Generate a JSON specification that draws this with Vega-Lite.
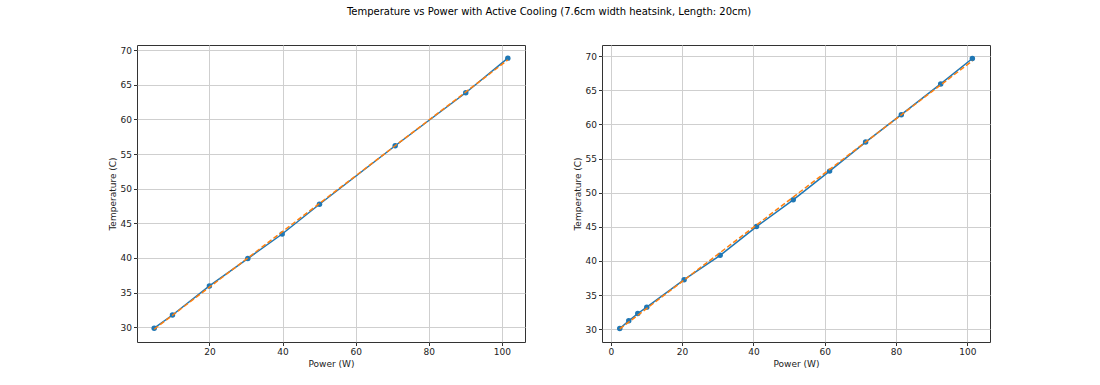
{
  "$schema": "https://vega.github.io/schema/vega-lite/v6.json",
  "background": "white",
  "padding": {"left": 107, "top": 6, "right": 5, "bottom": 5},
  "title": {"text": "Temperature vs Power with Active Cooling (7.6cm width heatsink, Length: 20cm)", "font": "DejaVu Sans", "fontSize": 10, "fontWeight": "normal", "color": "black", "anchor": "middle", "offset": 28},
  "datasets": {
    "left": [
      {"power": 4.9, "temp": 29.85, "fit": 29.69},
      {"power": 9.9, "temp": 31.75, "fit": 31.71},
      {"power": 20.0, "temp": 35.95, "fit": 35.77},
      {"power": 30.5, "temp": 39.9, "fit": 39.99},
      {"power": 39.9, "temp": 43.45, "fit": 43.77},
      {"power": 50.1, "temp": 47.75, "fit": 47.87},
      {"power": 70.8, "temp": 56.2, "fit": 56.2},
      {"power": 90.1, "temp": 63.85, "fit": 63.96},
      {"power": 101.6, "temp": 68.85, "fit": 68.59}
    ],
    "right": [
      {"power": 2.53, "temp": 30.1, "fit": 30.03},
      {"power": 5.05, "temp": 31.22, "fit": 31.03},
      {"power": 7.58, "temp": 32.3, "fit": 32.04},
      {"power": 10.1, "temp": 33.23, "fit": 33.04},
      {"power": 20.58, "temp": 37.25, "fit": 37.2},
      {"power": 30.68, "temp": 40.82, "fit": 41.22},
      {"power": 40.88, "temp": 45.03, "fit": 45.27},
      {"power": 51.17, "temp": 48.95, "fit": 49.36},
      {"power": 61.37, "temp": 53.16, "fit": 53.41},
      {"power": 71.47, "temp": 57.42, "fit": 57.42},
      {"power": 81.48, "temp": 61.43, "fit": 61.4},
      {"power": 92.52, "temp": 65.94, "fit": 65.79},
      {"power": 101.4, "temp": 69.66, "fit": 69.31}
    ]
  },
  "spacing": 46,
  "hconcat": [
    {
      "width": 388,
      "height": 297,
      "data": {"name": "left"},
      "layer": [
        {
          "mark": {"type": "line", "color": "#1f77b4", "strokeWidth": 1.5, "point": {"filled": true, "size": 30, "color": "#1f77b4", "opacity": 1}},
          "encoding": {
            "x": {"field": "power", "type": "quantitative", "title": "Power (W)", "scale": {"domain": [0.2, 106.3], "nice": false, "zero": false}, "axis": {"values": [20, 40, 60, 80, 100]}},
            "y": {"field": "temp", "type": "quantitative", "title": "Temperature (C)", "scale": {"domain": [27.85, 70.75], "nice": false, "zero": false}, "axis": {"values": [30, 35, 40, 45, 50, 55, 60, 65, 70], "tickCount": 9}}
          }
        },
        {
          "mark": {"type": "line", "color": "#ff7f0e", "strokeWidth": 1.5, "strokeDash": [5, 2.5]},
          "encoding": {
            "x": {"field": "power", "type": "quantitative", "title": "Power (W)", "scale": {"domain": [0.2, 106.3], "nice": false, "zero": false}, "axis": {"values": [20, 40, 60, 80, 100]}},
            "y": {"field": "fit", "type": "quantitative", "title": "Temperature (C)", "scale": {"domain": [27.85, 70.75], "nice": false, "zero": false}, "axis": {"values": [30, 35, 40, 45, 50, 55, 60, 65, 70], "tickCount": 9}}
          }
        }
      ]
    },
    {
      "width": 388,
      "height": 297,
      "data": {"name": "right"},
      "layer": [
        {
          "mark": {"type": "line", "color": "#1f77b4", "strokeWidth": 1.5, "point": {"filled": true, "size": 30, "color": "#1f77b4", "opacity": 1}},
          "encoding": {
            "x": {"field": "power", "type": "quantitative", "title": "Power (W)", "scale": {"domain": [-2.45, 106.35], "nice": false, "zero": false}, "axis": {"values": [0, 20, 40, 60, 80, 100]}},
            "y": {"field": "temp", "type": "quantitative", "title": "Temperature (C)", "scale": {"domain": [28.12, 71.64], "nice": false, "zero": false}, "axis": {"values": [30, 35, 40, 45, 50, 55, 60, 65, 70], "tickCount": 9}}
          }
        },
        {
          "mark": {"type": "line", "color": "#ff7f0e", "strokeWidth": 1.5, "strokeDash": [5, 2.5]},
          "encoding": {
            "x": {"field": "power", "type": "quantitative", "title": "Power (W)", "scale": {"domain": [-2.45, 106.35], "nice": false, "zero": false}, "axis": {"values": [0, 20, 40, 60, 80, 100]}},
            "y": {"field": "fit", "type": "quantitative", "title": "Temperature (C)", "scale": {"domain": [28.12, 71.64], "nice": false, "zero": false}, "axis": {"values": [30, 35, 40, 45, 50, 55, 60, 65, 70], "tickCount": 9}}
          }
        }
      ]
    }
  ],
  "config": {
    "font": "DejaVu Sans",
    "view": {"stroke": "#333333", "strokeWidth": 1},
    "axis": {
      "labelFont": "DejaVu Sans",
      "titleFont": "DejaVu Sans",
      "labelFontSize": 9,
      "titleFontSize": 9,
      "titleFontWeight": "normal",
      "labelColor": "#222222",
      "titleColor": "#222222",
      "labelOverlap": false,
      "labelFlush": false,
      "domain": false,
      "tickColor": "#333333",
      "tickSize": 3.5,
      "labelPadding": 2,
      "titlePadding": 3,
      "grid": true,
      "gridColor": "#cfcfcf",
      "gridWidth": 1
    }
  }
}
